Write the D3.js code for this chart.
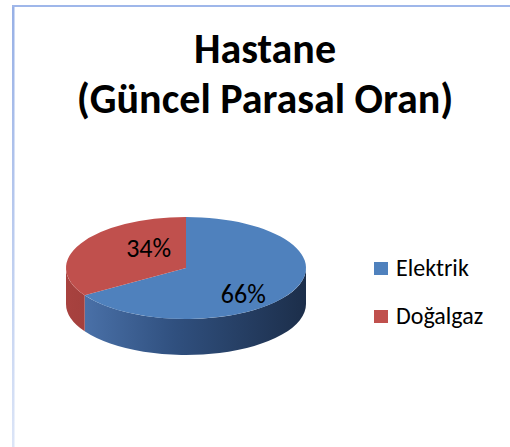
<!DOCTYPE html>
<html>
<head>
<meta charset="utf-8">
<script src="https://cdn.jsdelivr.net/npm/d3@7"></script>
<style>
  html, body { margin: 0; padding: 0; background: #fff; }
  text { font-family: Carlito, Calibri, Lato, sans-serif; }
</style>
</head>
<body>
<script>
// chart data
var categories = ["Elektrik", "Doğalgaz"];
var values = [66, 34];
var titleLines = ["Hastane", "(Güncel Parasal Oran)"];

var width = 510, height = 447;
var topColors = ["#4f81bd", "#c0504d"];

// pie geometry (elliptic top face + depth)
var cx = 186, cy = 268, rx = 120, ry = 51, depth = 36;

var svg = d3.select("body").append("svg")
    .attr("width", width)
    .attr("height", height);

var defs = svg.append("defs");

// chart area border, fades toward bottom
var bg = defs.append("linearGradient").attr("id", "border")
    .attr("x1", 0).attr("y1", 0).attr("x2", 0).attr("y2", 1);
bg.append("stop").attr("offset", "0%").attr("stop-color", "#97b0e6");
bg.append("stop").attr("offset", "100%").attr("stop-color", "#dce5f7");

var sideBlue = defs.append("linearGradient").attr("id", "side0")
    .attr("gradientUnits", "userSpaceOnUse")
    .attr("x1", cx - rx).attr("y1", 0).attr("x2", cx + rx).attr("y2", 0);
sideBlue.append("stop").attr("offset", "0%").attr("stop-color", "#4f77b0");
sideBlue.append("stop").attr("offset", "45%").attr("stop-color", "#30507f");
sideBlue.append("stop").attr("offset", "100%").attr("stop-color", "#1c2e4a");

var sideRed = defs.append("linearGradient").attr("id", "side1")
    .attr("gradientUnits", "userSpaceOnUse")
    .attr("x1", cx - rx).attr("y1", 0).attr("x2", cx).attr("y2", 0);
sideRed.append("stop").attr("offset", "0%").attr("stop-color", "#a8423f");
sideRed.append("stop").attr("offset", "100%").attr("stop-color", "#8e3633");

svg.append("rect")
    .attr("x", 12).attr("y", 5).attr("width", 2.5).attr("height", height - 5)
    .attr("fill", "url(#border)");
svg.append("rect")
    .attr("x", 12).attr("y", 5).attr("width", width - 12).attr("height", 2)
    .attr("fill", "#9fb7ea");

// title
svg.append("g").selectAll("text")
    .data(titleLines)
    .enter().append("text")
    .attr("x", 265)
    .attr("y", function(d, i) { return 63 + i * 50; })
    .attr("text-anchor", "middle")
    .style("font-size", "42px")
    .style("font-weight", "bold")
    .attr("fill", "#000")
    .text(function(d) { return d; });

var pie = d3.pie().sort(null).value(function(d) { return d; });
var arcs = pie(values);
var total = d3.sum(values);

function px(a) { return cx + rx * Math.sin(a); }
function py(a) { return cy - ry * Math.cos(a); }

// front side walls (only the part between 90deg and 270deg is visible)
var sides = svg.append("g");
arcs.forEach(function(d, i) {
  var a0 = Math.max(d.startAngle, Math.PI / 2),
      a1 = Math.min(d.endAngle, Math.PI * 1.5);
  if (a1 <= a0) return;
  var large = (a1 - a0) > Math.PI ? 1 : 0;
  var p = "M" + px(a0) + "," + py(a0)
        + "A" + rx + "," + ry + " 0 " + large + " 1 " + px(a1) + "," + py(a1)
        + "L" + px(a1) + "," + (py(a1) + depth)
        + "A" + rx + "," + ry + " 0 " + large + " 0 " + px(a0) + "," + (py(a0) + depth)
        + "Z";
  sides.append("path").attr("d", p).attr("fill", "url(#side" + i + ")");
});

// top faces
svg.append("g").selectAll("path")
    .data(arcs)
    .enter().append("path")
    .attr("d", function(d) {
      var large = (d.endAngle - d.startAngle) > Math.PI ? 1 : 0;
      return "M" + cx + "," + cy
        + "L" + px(d.startAngle) + "," + py(d.startAngle)
        + "A" + rx + "," + ry + " 0 " + large + " 1 " + px(d.endAngle) + "," + py(d.endAngle)
        + "Z";
    })
    .attr("fill", function(d, i) { return topColors[i]; });

// percent labels
var fmt = d3.format(".0%");
svg.append("g").selectAll("text")
    .data(arcs)
    .enter().append("text")
    .attr("x", function(d) { var m = (d.startAngle + d.endAngle) / 2; return cx + 10 + 0.45 * rx * Math.sin(m); })
    .attr("y", function(d) { var m = (d.startAngle + d.endAngle) / 2; return cy + 3 - 0.95 * ry * Math.cos(m); })
    .attr("dy", "0.35em")
    .attr("text-anchor", "middle")
    .style("font-size", "26px")
    .attr("fill", "#000")
    .text(function(d) { return fmt(d.value / total); });

// legend
var legend = svg.append("g").selectAll("g")
    .data(categories)
    .enter().append("g")
    .attr("transform", function(d, i) { return "translate(374," + (262 + i * 48) + ")"; });

legend.append("rect")
    .attr("width", 14).attr("height", 13)
    .attr("fill", function(d, i) { return topColors[i]; });

legend.append("text")
    .attr("x", 22).attr("y", 14)
    .style("font-size", "24px")
    .attr("fill", "#000")
    .text(function(d) { return d; });
</script>
</body>
</html>
